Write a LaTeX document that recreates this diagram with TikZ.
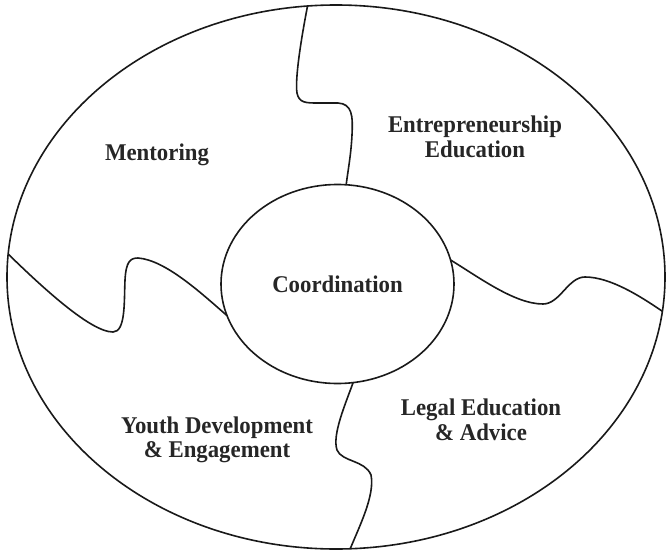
\documentclass[tikz,border=0pt]{standalone}
\usepackage{fontspec}
\newfontfamily\piecefont{Liberation Serif}[FakeStretch=0.95]
\usetikzlibrary{shapes.geometric}
\begin{document}
\begin{tikzpicture}[x=1pt, y=-1pt, line width=1.6pt, draw=black!90,
    ring/.style={ellipse, draw, inner sep=0pt, outer sep=0pt},
    piece/.style={font=\piecefont\bfseries\fontsize{24}{24.6}\selectfont, align=center, text=black!85}]
    \useasboundingbox (0,0) rectangle (666,551);
    % outer ring and the hub in the middle
    \node[ring, minimum width=658pt, minimum height=544pt] (ring) at (336,277) {};
    \node[ring, piece, minimum width=233pt, minimum height=199pt] (hub) at (337.5,284) {Coordination};
    % the four pieces
    \node[piece] (mentor) at (157,155) {Mentoring};
    \node[piece] (entre) at (475,137) {Entrepreneurship\\Education};
    \node[piece] (legal) at (481,420) {Legal Education\\\& Advice};
    \node[piece] (youth) at (217,440) {Youth Development\\\& Engagement};
    % wavy cuts between the pieces
    \draw (ring.96) .. controls (300,45) and (295,80) .. (297,93)
        .. controls (299,103) and (306,103) .. (318,103) -- (338,103)
        .. controls (352,104) and (353,115) .. (352,135)
        .. controls (351,155) and (348,170) .. (hub.85);
    \draw (hub.12) .. controls (480,278) and (515,304) .. (543,304)
        .. controls (560,304) and (568,277) .. (585,277)
        .. controls (610,277) and (640,296) .. (ring.-6);
    \draw (hub.-81.5) .. controls (345,405) and (332,435) .. (337,450)
        .. controls (342,462) and (365,460) .. (371,475)
        .. controls (375,495) and (360,525) .. (ring.-87.2);
    \draw (ring.176.7) .. controls (40,285) and (90,332) .. (113,332)
        .. controls (126,332) and (124,300) .. (125,280)
        .. controls (126,262) and (130,258) .. (138,258)
        .. controls (165,260) and (200,292) .. (hub.-164.4);
\end{tikzpicture}
\end{document}
